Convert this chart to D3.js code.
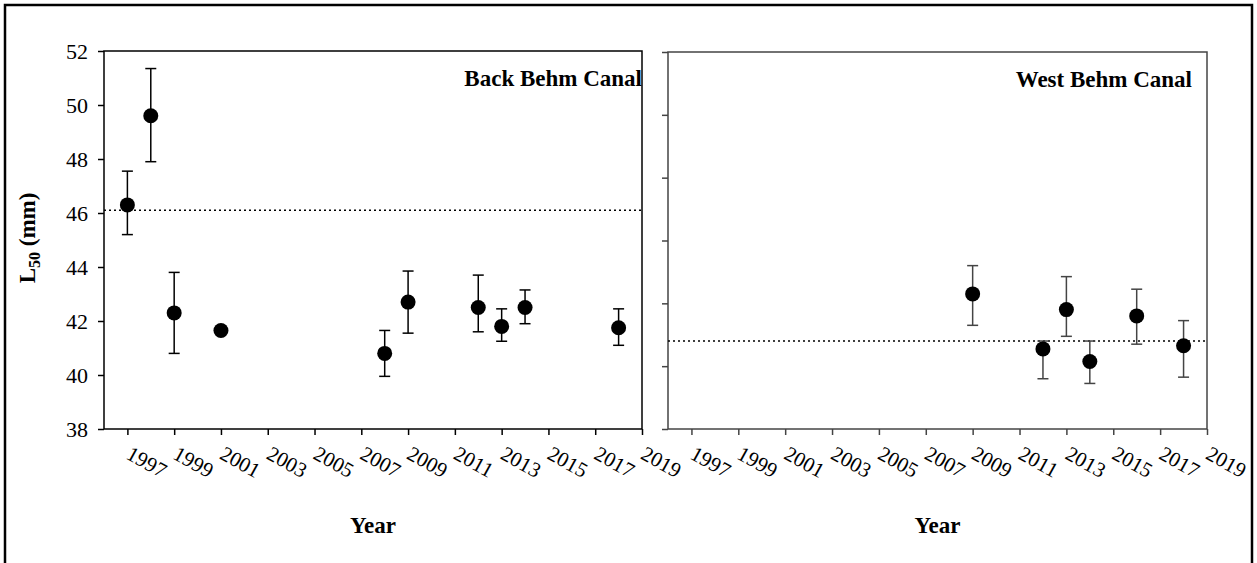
<!DOCTYPE html>
<html>
<head>
    <meta charset="utf-8">
    <title>L50 by year, Back and West Behm Canal</title>
    <script src="https://d3js.org/d3.v7.min.js"></script>
    <style>
        body { margin: 0; background: #fff; }
        svg { display: block; font-family: "Liberation Serif", "Times New Roman", serif; }
    </style>
</head>
<body>
<svg id="chart" width="1257" height="563"></svg>

<script>
    // Back Behm Canal
    var backYears = [1997, 1998, 1999, 2001, 2008, 2009, 2012, 2013, 2014, 2018];
    var backL50   = [46.3, 49.6, 42.3, 41.65, 40.8, 42.7, 42.5, 41.8, 42.5, 41.75];
    var backLow   = [45.2, 47.9, 40.8, null, 39.95, 41.55, 41.6, 41.25, 41.9, 41.1];
    var backHigh  = [47.55, 51.35, 43.8, null, 41.65, 43.85, 43.7, 42.45, 43.15, 42.45];
    var backMean  = 46.1;

    // West Behm Canal (own unlabelled y scale)
    var westYears = [2009, 2012, 2013, 2014, 2016, 2018];
    var westL50   = [42.3, 40.55, 41.8, 40.15, 41.6, 40.65];
    var westLow   = [41.3, 39.6, 40.95, 39.45, 40.7, 39.65];
    var westHigh  = [43.2, 40.8, 42.85, 40.8, 42.45, 41.45];
    var westMean  = 40.8;

    var yearTicks = [1997, 1999, 2001, 2003, 2005, 2007, 2009, 2011, 2013, 2015, 2017, 2019];
    var backYTicks = [38, 40, 42, 44, 46, 48, 50, 52];
    var westYTicks = [38, 40, 42, 44, 46, 48, 50];

    var svg = d3.select("#chart");
    var serif = "'Liberation Serif', 'Times New Roman', serif";

    // outer frame
    svg.append("rect")
        .attr("x", 5).attr("y", 5)
        .attr("width", 1247).attr("height", 620)
        .style("fill", "none")
        .style("stroke", "#000")
        .style("stroke-width", 2.5);

    function drawPanel(opt) {
        var x = d3.scaleLinear().domain([1996, 2019]).range([opt.left, opt.right]);
        var y = d3.scaleLinear().domain(opt.yDomain).range([429, opt.top]);
        var g = svg.append("g");

        var pts = opt.years.map(function(d, i) {
            return { year: d, v: opt.vals[i], lo: opt.low[i], hi: opt.high[i] };
        });

        // frame
        g.append("rect")
            .attr("x", opt.left).attr("y", opt.top)
            .attr("width", opt.right - opt.left).attr("height", 429 - opt.top)
            .style("fill", "none")
            .style("stroke", opt.color)
            .style("stroke-width", 1.5);

        // y axis
        var yAxis = d3.axisLeft(y).tickValues(opt.yTicks).tickSize(6).tickSizeOuter(0);
        if (!opt.yLabels) yAxis.tickFormat("");
        var ya = g.append("g").attr("transform", "translate(" + opt.left + ",0)").call(yAxis);
        ya.attr("font-family", null).attr("font-size", null);
        ya.select(".domain").remove();
        ya.selectAll("line").style("stroke", opt.color).style("stroke-width", 1.5);
        ya.selectAll("text")
            .attr("x", -16)
            .style("font-size", "22px")
            .style("font-family", serif)
            .style("fill", "#000");

        // x axis
        var xAxis = d3.axisBottom(x).tickValues(yearTicks).tickSize(6).tickSizeOuter(0).tickFormat(d3.format("d"));
        var xa = g.append("g").attr("transform", "translate(0,429)").call(xAxis);
        xa.attr("font-family", null).attr("font-size", null);
        xa.select(".domain").remove();
        xa.selectAll("line").style("stroke", opt.color).style("stroke-width", 1.5);
        xa.selectAll("text")
            .attr("y", 0).attr("dy", 0)
            .attr("transform", "translate(-3,29) rotate(29)")
            .style("text-anchor", "start")
            .style("font-size", "21px")
            .style("font-family", serif)
            .style("fill", "#000");

        // mean line
        g.append("line")
            .attr("x1", opt.left).attr("x2", opt.right)
            .attr("y1", y(opt.mean)).attr("y2", y(opt.mean))
            .style("stroke", "#000")
            .style("stroke-width", 1.5)
            .style("stroke-dasharray", "2,3");

        // error bars
        var eb = g.append("g").selectAll("g")
            .data(pts.filter(function(d) { return d.lo != null; }))
            .enter().append("g")
            .style("stroke", opt.color)
            .style("stroke-width", 1.5);
        eb.append("line")
            .attr("x1", function(d) { return x(d.year); })
            .attr("x2", function(d) { return x(d.year); })
            .attr("y1", function(d) { return y(d.lo); })
            .attr("y2", function(d) { return y(d.hi); });
        eb.append("line")
            .attr("x1", function(d) { return x(d.year) - 5.5; })
            .attr("x2", function(d) { return x(d.year) + 5.5; })
            .attr("y1", function(d) { return y(d.lo); })
            .attr("y2", function(d) { return y(d.lo); });
        eb.append("line")
            .attr("x1", function(d) { return x(d.year) - 5.5; })
            .attr("x2", function(d) { return x(d.year) + 5.5; })
            .attr("y1", function(d) { return y(d.hi); })
            .attr("y2", function(d) { return y(d.hi); });

        // points
        g.append("g").selectAll("circle")
            .data(pts)
            .enter().append("circle")
            .attr("cx", function(d) { return x(d.year); })
            .attr("cy", function(d) { return y(d.v); })
            .attr("r", 7.5)
            .style("fill", "#000");

        // panel title
        g.append("text")
            .attr("x", opt.titleX).attr("y", opt.top + 35)
            .style("text-anchor", "end")
            .style("font-family", serif)
            .style("font-weight", "bold")
            .style("font-size", "23px")
            .text(opt.title);

        // x axis title
        g.append("text")
            .attr("x", (opt.left + opt.right) / 2).attr("y", 533)
            .style("text-anchor", "middle")
            .style("font-family", serif)
            .style("font-weight", "bold")
            .style("font-size", "23px")
            .text("Year");
    }

    drawPanel({
        left: 104, right: 642, top: 51, color: "#000",
        yDomain: [38, 52], yTicks: backYTicks, yLabels: true,
        years: backYears, vals: backL50, low: backLow, high: backHigh, mean: backMean,
        title: "Back Behm Canal", titleX: 642
    });

    drawPanel({
        left: 668, right: 1207, top: 52, color: "#444",
        yDomain: [38, 50], yTicks: westYTicks, yLabels: false,
        years: westYears, vals: westL50, low: westLow, high: westHigh, mean: westMean,
        title: "West Behm Canal", titleX: 1192
    });

    // y axis title
    var yt = svg.append("text")
        .attr("transform", "translate(35,238) rotate(-90)")
        .style("text-anchor", "middle")
        .style("font-family", serif)
        .style("font-weight", "bold")
        .style("font-size", "23px");
    yt.append("tspan").text("L");
    yt.append("tspan").attr("dy", 5).style("font-size", "16px").text("50");
    yt.append("tspan").attr("dy", -5).text(" (mm)");
</script>
</body>
</html>
